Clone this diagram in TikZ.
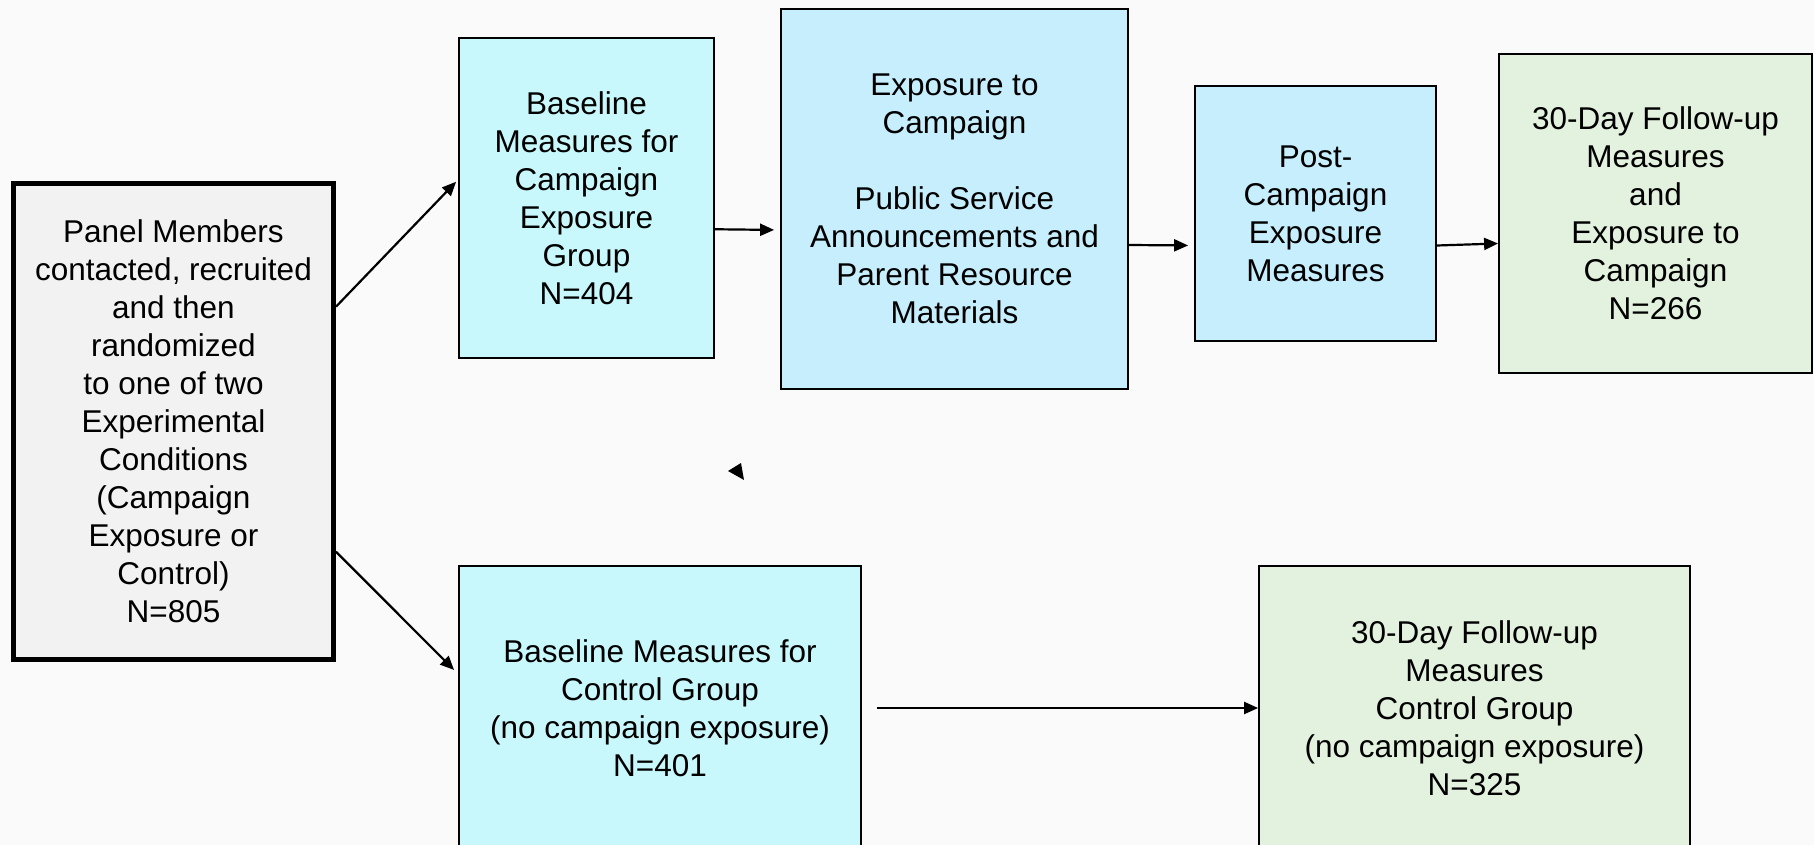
\documentclass[tikz,border=0pt]{standalone}
\usepackage{fontspec}
\setmainfont{Liberation Sans}
\usetikzlibrary{arrows.meta}
\definecolor{panelgray}{HTML}{F2F2F2}
\definecolor{basecyan}{HTML}{C8F8FB}
\definecolor{expoblue}{HTML}{C6EEFD}
\definecolor{followgreen}{HTML}{E3F2DE}
\begin{document}
\begin{tikzpicture}[x=1pt,y=-1pt,
  box/.style={draw=black,line width=1.8pt,align=center,inner sep=0pt,
    font=\fontsize{31.5}{38}\selectfont},
  arr/.style={-{Triangle[length=14pt,width=12pt]},line width=2.2pt}]
  \fill[black!2] (0,0) rectangle (1814,845);
  \useasboundingbox (0,0) rectangle (1814,845);

  \node[box,fill=panelgray,line width=5pt,minimum width=320pt,minimum height=476pt] (panel) at (173.5,421.7)
    {Panel Members\\contacted, recruited\\and then\\randomized\\to one of two\\Experimental\\Conditions\\(Campaign\\Exposure or\\Control)\\N=805};
  \node[box,fill=basecyan,minimum width=255pt,minimum height=320pt] (basecamp) at (586.5,197.75)
    {Baseline\\Measures for\\Campaign\\Exposure\\Group\\N=404};
  \node[box,fill=expoblue,minimum width=347pt,minimum height=380pt] (expo) at (954.5,199)
    {Exposure to\\Campaign\\[38pt]Public Service\\Announcements and\\Parent Resource\\Materials};
  \node[box,fill=expoblue,minimum width=241pt,minimum height=255pt] (post) at (1315.5,213.5)
    {Post-\\Campaign\\Exposure\\Measures};
  \node[box,fill=followgreen,minimum width=313pt,minimum height=319pt] (followcamp) at (1655.5,213.5)
    {30-Day Follow-up\\Measures\\and\\Exposure to\\Campaign\\N=266};
  \node[box,fill=basecyan,minimum width=402pt,minimum height=284pt] (basectrl) at (660,708)
    {Baseline Measures for\\Control Group\\(no campaign exposure)\\N=401};
  \node[box,fill=followgreen,minimum width=431pt,minimum height=284pt] (followctrl) at (1474.5,708)
    {30-Day Follow-up\\Measures\\Control Group\\(no campaign exposure)\\N=325};

  \draw[arr] ([yshift=115pt]panel.east) -- ([yshift=16pt,xshift=-2pt]basecamp.west);
  \draw[arr] ([yshift=-130pt]panel.east) -- ([yshift=38pt,xshift=-4pt]basectrl.west);
  \draw[arr,shorten >=6pt] ([yshift=-31.5pt]basecamp.east) -- ([yshift=-31pt]expo.west);
  \draw[arr,shorten >=6pt] ([yshift=-46pt]expo.east) -- ([yshift=-32pt]post.west);
  \draw[arr] ([yshift=-32pt]post.east) -- ([yshift=-30pt]followcamp.west);
  \draw[arr,shorten <=15pt] (basectrl.east) -- (followctrl.west);

  \fill (728,471) -- (741,463) -- (744,480) -- cycle;
\end{tikzpicture}
\end{document}
